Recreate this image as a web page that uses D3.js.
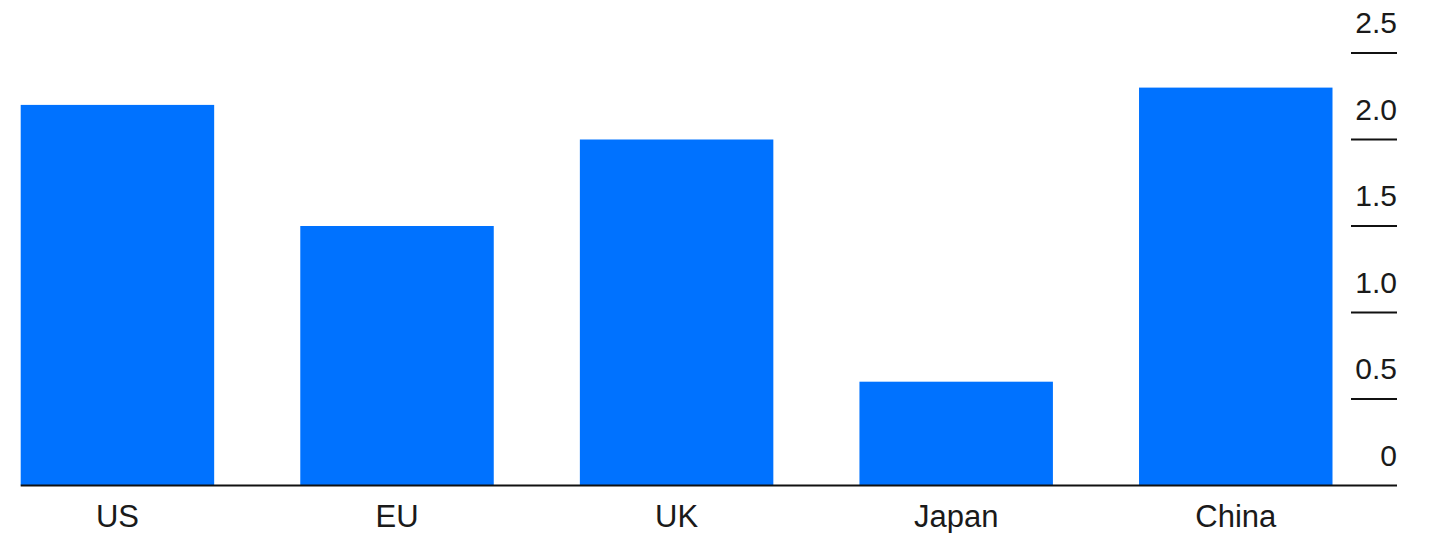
<!DOCTYPE html>
<html>
<head>
<meta charset="utf-8">
<script src="https://cdn.jsdelivr.net/npm/d3@7"></script>
<style>
  html, body { margin: 0; padding: 0; background: #fff; }
  svg text { font-family: "Liberation Sans", Arial, sans-serif; fill: #1a1a1a; }
</style>
</head>
<body>
<svg id="chart"></svg>
<script>
// Data
const categories = ["US", "EU", "UK", "Japan", "China"];
const values = [2.2, 1.5, 2.0, 0.6, 2.3];
const yTicks = [0, 0.5, 1.0, 1.5, 2.0, 2.5];
const yTickLabels = ["0", "0.5", "1.0", "1.5", "2.0", "2.5"];

const W = 1435, H = 533;
const C = { bar: "#0072ff", axis: "#111" };

const svg = d3.select("#chart").attr("width", W).attr("height", H);

const x = d3.scaleBand().domain(categories).range([20.7, 1332.5])
    .paddingInner(0.308).paddingOuter(0);
const y = d3.scaleLinear().domain([0, 2.5]).range([485.5, 53]);

// Bars
svg.append("g").selectAll("rect").data(categories).join("rect")
    .attr("x", d => x(d))
    .attr("width", x.bandwidth())
    .attr("y", (d, i) => y(values[i]))
    .attr("height", (d, i) => y(0) - y(values[i]))
    .attr("fill", C.bar);

// Right axis: short tick lines with labels sitting above them
const tickX0 = 1351, tickX1 = 1397;
const yg = svg.append("g");
yTicks.forEach((t, i) => {
    if (t !== 0) {
        yg.append("line")
            .attr("x1", tickX0).attr("x2", tickX1)
            .attr("y1", y(t)).attr("y2", y(t))
            .attr("stroke", C.axis).attr("stroke-width", 2);
    }
    yg.append("text")
        .attr("x", tickX1).attr("y", y(t) - 20)
        .attr("text-anchor", "end")
        .style("font-size", "30px")
        .text(yTickLabels[i]);
});

// Baseline
svg.append("line")
    .attr("x1", x(categories[0])).attr("x2", tickX1)
    .attr("y1", y(0)).attr("y2", y(0))
    .attr("stroke", C.axis).attr("stroke-width", 2);

// Category labels
svg.append("g").selectAll("text").data(categories).join("text")
    .attr("x", d => x(d) + x.bandwidth() / 2)
    .attr("y", 527)
    .attr("text-anchor", "middle")
    .style("font-size", "31px")
    .text(d => d);
</script>
</body>
</html>
